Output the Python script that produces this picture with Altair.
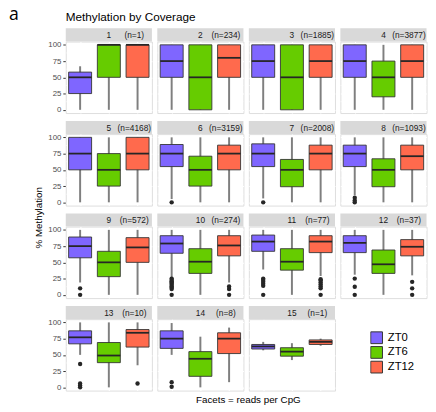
import altair as alt
import pandas as pd

facets = list(range(1, 16))
n_labels = ["(n=1)", "(n=234)", "(n=1885)", "(n=3877)", "(n=4168)", "(n=3159)",
            "(n=2008)", "(n=1093)", "(n=572)", "(n=274)", "(n=77)", "(n=37)",
            "(n=10)", "(n=8)", "(n=1)"]
groups = ["ZT0", "ZT6", "ZT12"]
colors = ["#7F66FF", "#66CC00", "#FF6A4D"]

# [lower whisker, q1, median, q3, upper whisker] per facet
zt0_stats = [
    [0, 25, 50, 58, 67], [0, 50, 75, 100, 100], [0, 50, 75, 100, 100],
    [0, 50, 75, 100, 100], [0, 50, 75, 100, 100], [5, 55, 75, 89, 100],
    [6, 55, 75, 90, 100], [11, 55, 75, 88, 100], [19, 57, 75, 89, 100],
    [26, 64, 79, 91, 100], [39, 67, 82, 92, 100], [31, 65, 80, 91, 100],
    [50, 67, 77, 87, 100], [50, 60, 75, 87, 99], [57, 59, 63, 66, 70],
]
zt6_stats = [
    [0, 50, 100, 100, 100], [0, 0, 50, 100, 100], [0, 0, 50, 100, 100],
    [0, 20, 50, 75, 100], [0, 25, 50, 75, 100], [0, 25, 50, 71, 100],
    [0, 24, 50, 66, 100], [0, 24, 50, 67, 100], [0, 28, 50, 67, 100],
    [0, 33, 51, 71, 100], [0, 38, 51, 71, 100], [0, 33, 47, 69, 100],
    [0, 38, 49, 69, 100], [0, 17, 44, 55, 78], [42, 48, 55, 61, 68],
]
zt12_stats = [
    [0, 50, 100, 100, 100], [0, 50, 80, 100, 100], [0, 50, 75, 100, 100],
    [0, 50, 75, 100, 100], [0, 50, 75, 100, 100], [0, 50, 75, 88, 100],
    [0, 50, 75, 88, 100], [0, 50, 71, 88, 100], [0, 50, 73, 88, 100],
    [19, 60, 76, 91, 100], [29, 65, 82, 91, 100], [30, 60, 74, 85, 100],
    [34, 62, 84, 89, 100], [8, 52, 75, 84, 92], [64, 66, 70, 73, 75],
]
# outliers per facet
zt0_out = [[], [], [], [], [], [0], [0], [0, 3, 7], [0, 10],
           [0, 9, 11, 13, 15, 17, 19, 21, 23, 25], [0, 14, 17, 20, 23, 25],
           [0, 12.5, 25], [0, 3, 6, 36], [1, 8], []]
zt6_out = [[] for _ in range(15)]
zt12_out = [[], [], [], [], [], [], [], [], [], [0, 9, 13],
            [0, 10, 13, 16, 19, 22, 24], [0, 10, 20], [6], [], []]

rows = []
for gi, (g, stats, outs) in enumerate(zip(groups, [zt0_stats, zt6_stats, zt12_stats],
                                           [zt0_out, zt6_out, zt12_out])):
    for fi, f in enumerate(facets):
        lo, q1, med, q3, hi = stats[fi]
        rows.append(dict(kind="box", facet=f, group=g, xi=gi + 1, lo=lo, q1=q1,
                         med=med, q3=q3, hi=hi, nlab=n_labels[fi], val=None))
        for v in outs[fi]:
            rows.append(dict(kind="out", facet=f, group=g, xi=gi + 1, val=v))
df = pd.DataFrame(rows)

W, H = 88, 73
yscale = alt.Scale(domain=[-5, 105], nice=False, zero=False)
xscale = alt.Scale(domain=[0.5, 3.5], nice=False, zero=False)
yaxis = alt.Axis(values=[0, 25, 50, 75, 100], title=None, domain=False,
                 tickColor="#333333", tickSize=3, labelColor="#4D4D4D",
                 labelFontSize=8, labelPadding=2, gridColor="white", gridWidth=1.1)
xaxis = alt.Axis(values=[1, 2, 3], title=None, labels=False, ticks=False,
                 domain=False, gridColor="white", gridWidth=1.1)

base = alt.Chart(df)
boxes = base.transform_filter("datum.kind == 'box'")
first = boxes.transform_filter("datum.xi == 1")

strip = first.mark_rect(color="#D9D9D9").encode(
    x=alt.value(0), x2=alt.value(W), y=alt.value(-13.5), y2=alt.value(0))
strip_num = first.mark_text(fontSize=8.5, color="#1A1A1A", align="center",
                            baseline="middle").encode(
    x=alt.value(W / 2), y=alt.value(-6.5), text="facet:N")
strip_n = first.mark_text(fontSize=8.5, color="#1A1A1A", align="center",
                          baseline="middle").encode(
    x=alt.value(70), y=alt.value(-6.5), text="nlab:N")

minor = first.transform_calculate(m="[12.5, 37.5, 62.5, 87.5]").transform_flatten(
    ["m"]).mark_rule(color="white", strokeWidth=0.5).encode(
    y=alt.Y("m:Q", scale=yscale, axis=yaxis))

whisk = boxes.mark_rule(color="#7F7F7F", strokeWidth=2).encode(
    x=alt.X("xi:Q", scale=xscale, axis=xaxis),
    y=alt.Y("lo:Q", scale=yscale, axis=yaxis), y2="hi:Q")

box = boxes.transform_calculate(xlo="datum.xi - 0.4", xhi="datum.xi + 0.4").mark_bar(
    stroke="#333333", strokeWidth=0.9).encode(
    x=alt.X("xlo:Q", scale=xscale, axis=xaxis), x2="xhi:Q",
    y=alt.Y("q1:Q", scale=yscale, axis=yaxis), y2="q3:Q",
    color=alt.Color("group:N", scale=alt.Scale(domain=groups, range=colors),
                    legend=alt.Legend(title=None, orient="none", legendX=311,
                                      legendY=295, symbolType="square",
                                      symbolSize=144, symbolStrokeColor="#333333",
                                      symbolStrokeWidth=1, labelFontSize=11.5,
                                      labelColor="#000000", rowPadding=0,
                                      clipHeight=15, labelOffset=5)))

med = boxes.transform_calculate(xlo="datum.xi - 0.4", xhi="datum.xi + 0.4").mark_rule(
    color="#262626", strokeWidth=1.8).encode(
    x=alt.X("xlo:Q", scale=xscale, axis=xaxis), x2="xhi:Q",
    y=alt.Y("med:Q", scale=yscale, axis=yaxis))

outl = base.transform_filter("datum.kind == 'out'").mark_circle(
    color="#262626", size=20, opacity=1).encode(
    x=alt.X("xi:Q", scale=xscale, axis=xaxis),
    y=alt.Y("val:Q", scale=yscale, axis=yaxis))

title_t = first.transform_filter("datum.facet == 1").mark_text(
    text="Methylation by Coverage", fontSize=12, align="left", baseline="alphabetic",
    color="#000000").encode(x=alt.value(0), y=alt.value(-21))
a_t = first.transform_filter("datum.facet == 1").mark_text(
    text="a", fontSize=18, align="left", baseline="alphabetic", font="Open Sans",
    color="#000000").encode(x=alt.value(-58), y=alt.value(-22))
ylab = first.transform_filter("datum.facet == 9").mark_text(
    text="% Methylation", fontSize=10, angle=270, align="center", baseline="middle",
    color="#000000").encode(x=alt.value(-27), y=alt.value(-9))
xlab = first.transform_filter("datum.facet == 14").mark_text(
    text="Facets = reads per CpG", fontSize=10, align="center", baseline="middle",
    color="#000000").encode(x=alt.value(93), y=alt.value(83))

layered = alt.layer(strip, strip_num, strip_n, minor, whisk, box, med, outl,
                    title_t, a_t, ylab, xlab).properties(width=W, height=H)

chart = layered.facet(
    facet=alt.Facet("facet:O", header=alt.Header(
        labels=False, labelExpr="''", labelColor="transparent", labelFontSize=1,
        labelPadding=0, title=None)),
    columns=4, spacing={"row": 21.5, "column": 5.5}
).configure_view(fill="#EBEBEB", stroke=None).configure(
    font="Liberation Sans").properties(
    padding={"top": -8, "left": 0, "right": 0, "bottom": 0}, bounds="flush")

chart.save("out.html", embed_options={"renderer": "svg", "actions": False})
